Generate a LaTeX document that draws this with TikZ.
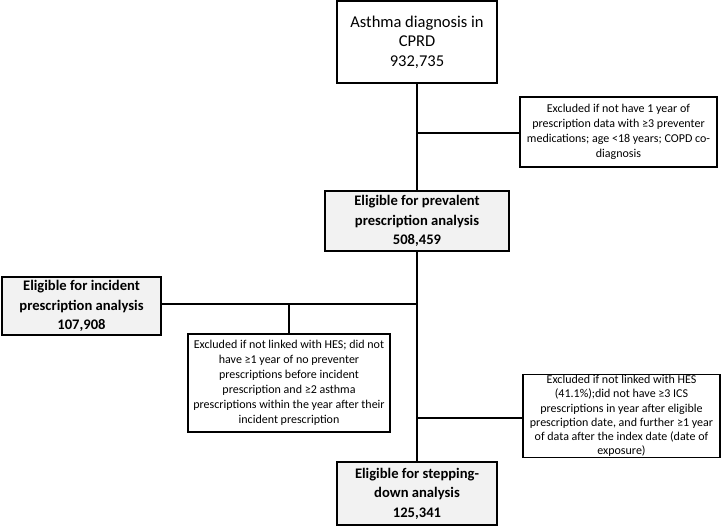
\documentclass[tikz,border=0pt]{standalone}
\usepackage{fontspec}
\setmainfont{Carlito}
\definecolor{boxgray}{HTML}{F2F2F2}
\tikzset{
  base/.style={draw=black, line width=1.6pt, rectangle, align=center, inner sep=0pt},
  topbox/.style={base, fill=white, font=\fontsize{16.5}{19.5}\selectfont},
  mainbox/.style={base, fill=boxgray, font=\bfseries\fontsize{14.6}{19.5}\selectfont},
  exclbox/.style={base, fill=white, font=\fontsize{12}{15}\selectfont},
  conn/.style={draw=black, line width=1.3pt}
}
\begin{document}
\begin{tikzpicture}[x=1pt,y=1pt]
\useasboundingbox (0,0) rectangle (724,-526);
\node[topbox, minimum width=160, minimum height=82] (top) at (417,-42) {Asthma diagnosis in\\CPRD\\932,735};
\node[exclbox, minimum width=197, minimum height=70] (ex1) at (618.5,-132) {Excluded if not have 1 year of\\prescription data with ≥3 preventer\\medications; age <18 years; COPD co-\\diagnosis};
\node[mainbox, minimum width=184, minimum height=60] (prev) at (417,-221) {Eligible for prevalent\\prescription analysis\\508,459};
\node[mainbox, minimum width=159, minimum height=58] (inc) at (81.5,-306) {Eligible for incident\\prescription analysis\\107,908};
\node[exclbox, minimum width=202, minimum height=98] (ex2) at (289,-383) {Excluded if not linked with HES; did not\\have ≥1 year of no preventer\\prescriptions before incident\\prescription and ≥2 asthma\\prescriptions within the year after their\\incident prescription};
\node[exclbox, minimum width=197, minimum height=83, font=\fontsize{12}{14.3}\selectfont] (ex3) at (621.5,-416) {Excluded if not linked with HES\\(41.1\%);did not have ≥3 ICS\\prescriptions in year after eligible\\prescription date, and further ≥1 year\\of data after the index date (date of\\exposure)};
\node[mainbox, minimum width=160, minimum height=63] (step) at (417,-493.5) {Eligible for stepping-\\down analysis\\125,341};
\coordinate (j1) at (417,-133);
\coordinate (j2) at (417,-304);
\coordinate (j3) at (289,-304);
\coordinate (j4) at (417,-418);
\draw[conn] (top.south) -- (prev.north);
\draw[conn] (j1) -- (j1 -| ex1.west);
\draw[conn] (prev.south) -- (step.north);
\draw[conn] (inc.east |- j2) -- (j2);
\draw[conn] (j3) -- (ex2.north);
\draw[conn] (j4) -- (j4 -| ex3.west);
\end{tikzpicture}
\end{document}
